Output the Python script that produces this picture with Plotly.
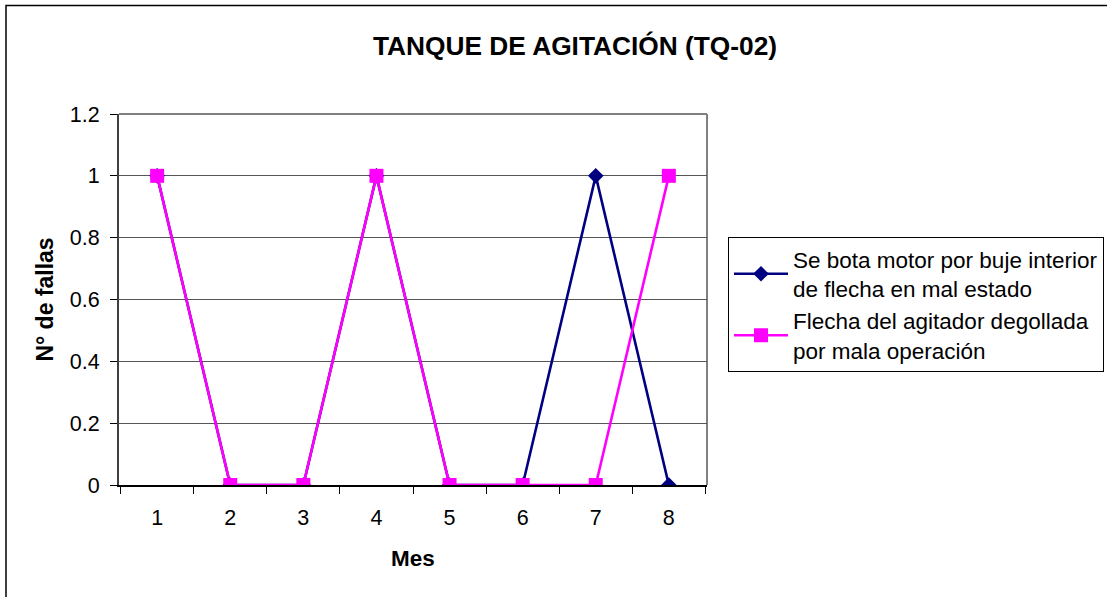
import plotly.graph_objects as go

# data
meses = ["1", "2", "3", "4", "5", "6", "7", "8"]
fallas_motor = [1, 0, 0, 1, 0, 0, 1, 0]
fallas_flecha = [1, 0, 0, 1, 0, 0, 0, 1]
nombre_motor = "Se bota motor por buje interior<br>de flecha en mal estado"
nombre_flecha = "Flecha del agitador degollada<br>por mala operación"
y_ticks = [0, 0.2, 0.4, 0.6, 0.8, 1, 1.2]

W, H = 1107, 597
L, R, T, B = 119, 707, 114, 485  # plot area in pixels


def px_x(p):
    return (p - L) / (R - L)


def px_y(p):
    return (B - p) / (B - T)


fig = go.Figure()

fig.add_trace(go.Scatter(
    x=meses, y=fallas_motor, mode="lines+markers", name=nombre_motor,
    line=dict(color="#000080", width=2.6),
    marker=dict(symbol="diamond", size=12, color="#000080"),
))
fig.add_trace(go.Scatter(
    x=meses, y=fallas_flecha, mode="lines+markers", name=nombre_flecha,
    line=dict(color="#FF00FF", width=2.6),
    marker=dict(symbol="square", size=14, color="#FF00FF"),
))

font = "Arial, Liberation Sans, sans-serif"

fig.update_layout(
    width=W, height=H,
    margin=dict(l=L, r=W - R, t=T, b=H - B, autoexpand=False),
    paper_bgcolor="white", plot_bgcolor="white",
    font=dict(family=font, size=21.5, color="black"),
    title=dict(
        text="<b>TANQUE DE AGITACIÓN (TQ-02)</b>",
        font=dict(size=26.3, color="black"),
        x=575 / W, xanchor="center", xref="container",
        y=1 - 46 / H, yanchor="middle", yref="container",
    ),
    xaxis=dict(
        type="category", tickson="boundaries",
        ticks="outside", ticklen=7, tickcolor="black", tickwidth=1,
        ticklabelstandoff=12,
        showline=True, linecolor="black", linewidth=2,
        showgrid=False, zeroline=False,
        title=dict(text="<b>Mes</b>", font=dict(size=22.5), standoff=21),
    ),
    yaxis=dict(
        range=[0, 1.2], tickvals=y_ticks,
        ticks="outside", ticklen=7, tickcolor="black", tickwidth=1,
        ticklabelstandoff=6,
        showline=True, linecolor="#404040", linewidth=2,
        showgrid=True, gridcolor="#555555", gridwidth=1,
        zeroline=False,
        title=dict(text="<b>N° de fallas</b>", font=dict(size=23), standoff=10),
    ),
    legend=dict(
        x=px_x(728), y=px_y(237), xanchor="left", yanchor="top",
        bordercolor="black", borderwidth=1, bgcolor="white",
        font=dict(size=22.5), tracegroupgap=0, itemwidth=54,
    ),
    shapes=[
        # gray plot-area frame (top and right edges)
        dict(type="line", xref="paper", yref="paper", x0=0, x1=1, y0=1, y1=1,
             line=dict(color="#808080", width=2), layer="below"),
        dict(type="line", xref="paper", yref="paper", x0=1, x1=1, y0=0, y1=1,
             line=dict(color="#808080", width=2), layer="below"),
        # outer chart border
        dict(type="rect", xref="paper", yref="paper",
             x0=px_x(6), x1=px_x(1140), y0=px_y(630), y1=px_y(5.5),
             line=dict(color="black", width=1.5)),
    ],
)

# drop the default 8px page margin so the figure sits at the window origin
fig.write_html("out.html", config={"displayModeBar": False},
               post_script="document.body.style.margin='0';")
